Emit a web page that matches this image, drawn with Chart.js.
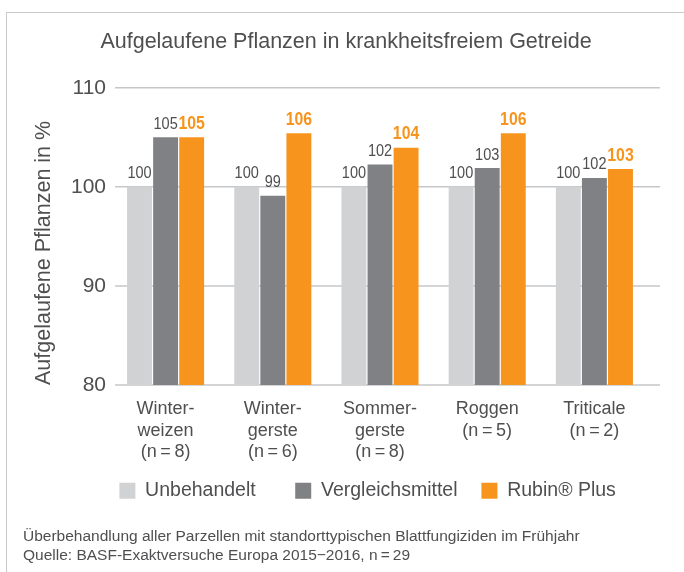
<!DOCTYPE html>
<html><head><meta charset="utf-8">
<script src="https://cdn.jsdelivr.net/npm/chart.js@4.4.1/dist/chart.umd.min.js"></script>
<style>
html,body{margin:0;padding:0;background:#fff;}
#wrap{position:relative;width:684px;height:572px;overflow:hidden;}
#frame{position:absolute;left:6px;top:12px;width:700px;height:600px;border-top:1.5px solid #cacaca;border-left:1.5px solid #cacaca;}
canvas{position:absolute;left:0;top:0;}
</style></head><body>
<div id="wrap"><div id="frame"></div><canvas id="c" width="684" height="572"></canvas></div>
<script>
const categories = [
  ['Winter-', 'weizen', '(n\u2009=\u20098)'],
  ['Winter-', 'gerste', '(n\u2009=\u20096)'],
  ['Sommer-', 'gerste', '(n\u2009=\u20098)'],
  ['Roggen', '(n\u2009=\u20095)'],
  ['Triticale', '(n\u2009=\u20092)']
];
const seriesNames = ['Unbehandelt', 'Vergleichsmittel', 'Rubin\u00AE Plus'];
const unbehandelt = [100, 100, 100, 100, 100];
const vergleichsmittel = [105.0, 99.1, 102.25, 101.9, 100.9];
const rubinPlus = [105.0, 105.4, 103.95, 105.4, 101.8];
const unbehandeltLabels = ['100', '100', '100', '100', '100'];
const vergleichsmittelLabels = ['105', '99', '102', '103', '102'];
const rubinPlusLabels = ['105', '106', '104', '106', '103'];
const yTicks = [80, 90, 100, 110];
const footnotes = [
  '\u00DCberbehandlung aller Parzellen mit standorttypischen Blattfungiziden im Fr\u00FChjahr',
  'Quelle: BASF-Exaktversuche Europa 2015\u22122016, n\u2009=\u200929'
];

const FONT = '"Liberation Sans", Arial, Helvetica, sans-serif';
const TEXT = '#4f4f51';
const COLORS = ['#d1d2d4', '#808184', '#f7941d'];
// extra spacing after each legend entry (real spaces)
const legendTrail = ['\u2003', '\u2009', '\u2003\u2002\u2009'];

const gridPlugin = {
  id: 'ownGrid',
  beforeDatasetsDraw(chart) {
    const y = chart.scales.y, ctx = chart.ctx, a = chart.chartArea;
    ctx.save();
    ctx.strokeStyle = '#c6c7c9';
    ctx.lineWidth = 1.5;
    y.ticks.forEach(t => {
      const py = y.getPixelForValue(t.value);
      ctx.beginPath();
      ctx.moveTo(a.left + 3, py);
      ctx.lineTo(a.right + 12, py);
      ctx.stroke();
    });
    ctx.restore();
  }
};

const labelPlugin = {
  id: 'barLabels',
  afterDatasetsDraw(chart) {
    const ctx = chart.ctx;
    const sets = [unbehandeltLabels, vergleichsmittelLabels, rubinPlusLabels];
    chart.data.datasets.forEach((ds, i) => {
      const meta = chart.getDatasetMeta(i);
      meta.data.forEach((bar, j) => {
        ctx.save();
        ctx.font = i === 2 ? 'bold 18px ' + FONT : '16.5px ' + FONT;
        ctx.fillStyle = i === 2 ? '#f7941d' : TEXT;
        ctx.textAlign = 'center';
        ctx.textBaseline = 'alphabetic';
        ctx.translate(bar.x, bar.y - 8.5);
        ctx.scale(0.88, 1);
        ctx.fillText(sets[i][j], 0, 0);
        ctx.restore();
      });
    });
  }
};

const datasets = [unbehandelt, vergleichsmittel, rubinPlus].map((d, i) => ({
  label: seriesNames[i],
  data: d,
  backgroundColor: COLORS[i],
  borderWidth: 0,
  categoryPercentage: 0.73,
  barPercentage: 0.955
}));

new Chart(document.getElementById('c'), {
  type: 'bar',
  data: { labels: categories, datasets },
  options: {
    responsive: false,
    animation: false,
    devicePixelRatio: 1,
    layout: { padding: { left: 23, right: 15, top: 0, bottom: 0 } },
    scales: {
      x: {
        grid: { display: false, drawTicks: false },
        border: { display: false },
        ticks: { color: TEXT, font: { family: FONT, size: 18, lineHeight: 1.17 }, padding: 14, maxRotation: 0, autoSkip: false },
        afterFit: s => { s.height = 76; }
      },
      y: {
        min: 80, max: 110,
        grid: { display: false, drawTicks: false },
        border: { display: false },
        afterBuildTicks: s => { s.ticks = yTicks.map(v => ({ value: v })); },
        ticks: { color: TEXT, font: { family: FONT, size: 21 }, padding: 6 },
        title: {
          display: true, text: 'Aufgelaufene Pflanzen in %', align: 'start',
          color: TEXT, font: { family: FONT, size: 21.5 }, padding: { top: 8, bottom: 0 }
        },
        afterFit: s => { s.width = 89; }
      },
      y2: {
        position: 'right', display: true,
        grid: { display: false, drawTicks: false }, border: { display: false },
        ticks: { display: false },
        afterFit: s => { s.width = 21; }
      }
    },
    plugins: {
      title: {
        display: true,
        text: 'Aufgelaufene Pflanzen in krankheitsfreiem Getreide',
        color: TEXT,
        font: { family: FONT, size: 21.5, weight: 'normal', lineHeight: 1.2 },
        padding: { top: 29, bottom: 33 }
      },
      legend: {
        position: 'bottom', align: 'end',
        labels: {
          color: TEXT, font: { family: FONT, size: 19.5 },
          boxWidth: 16, boxHeight: 16, padding: 20,
          generateLabels(chart) {
            const items = Chart.defaults.plugins.legend.labels.generateLabels(chart);
            items.forEach((it, i) => { it.text = it.text + legendTrail[i]; });
            return items;
          }
        }
      },
      subtitle: {
        display: true, position: 'bottom', align: 'start',
        text: footnotes, color: TEXT,
        font: { family: FONT, size: 15.5, lineHeight: 19 / 15.5 },
        padding: { top: 17, bottom: 6.5 }
      },
      tooltip: { enabled: false }
    }
  },
  plugins: [gridPlugin, labelPlugin]
});
</script>
</body></html>
